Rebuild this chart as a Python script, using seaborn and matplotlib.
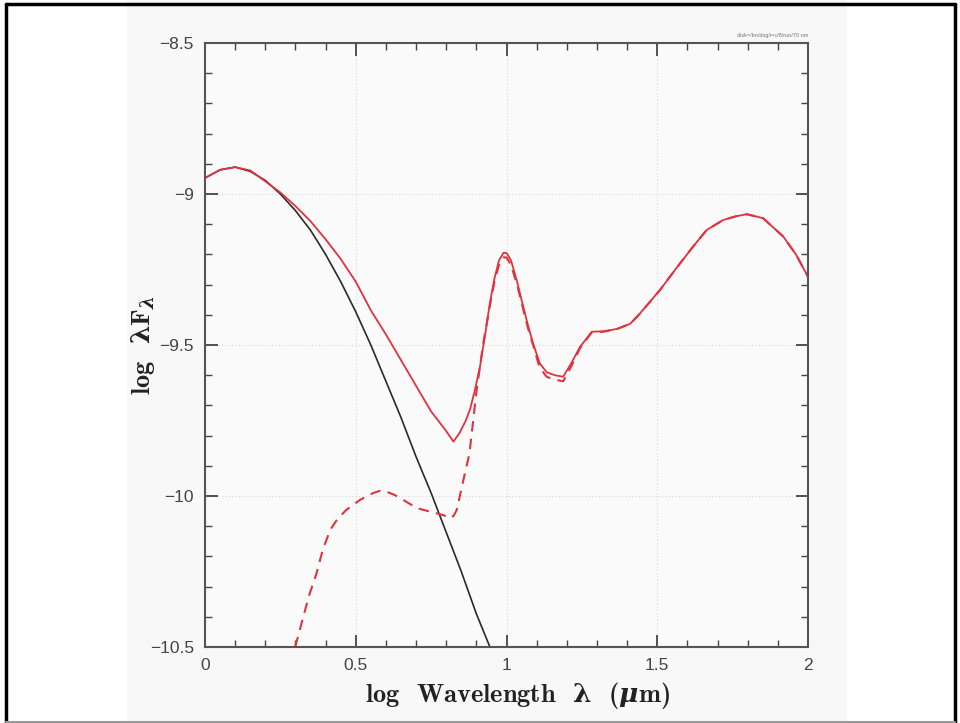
import matplotlib
matplotlib.use("Agg")
import matplotlib.pyplot as plt
import seaborn as sns
import pandas as pd
from matplotlib.patches import Rectangle
from matplotlib.lines import Line2D
from matplotlib.ticker import MultipleLocator, FixedFormatter, FixedLocator

# ---------------- data ----------------
x_star = [0.0, 0.05, 0.1, 0.15, 0.2, 0.25, 0.3, 0.35, 0.4, 0.45, 0.5, 0.55, 0.6, 0.65,
          0.7, 0.75, 0.8, 0.85, 0.9, 0.945]
y_star = [-8.947, -8.92, -8.911, -8.925, -8.955, -9.0, -9.055, -9.12, -9.2, -9.29, -9.39,
          -9.5, -9.62, -9.74, -9.87, -9.99, -10.12, -10.25, -10.39, -10.5]

x_total = [0.0, 0.05, 0.1, 0.15, 0.2, 0.25, 0.3, 0.35, 0.4, 0.45, 0.5, 0.55, 0.6, 0.65, 0.7,
           0.75, 0.8, 0.824, 0.845, 0.865, 0.88, 0.895, 0.912, 0.93, 0.945, 0.96, 0.975, 0.99,
           1.0, 1.015, 1.035, 1.05, 1.07, 1.088, 1.11, 1.133, 1.16, 1.188, 1.215, 1.244, 1.283,
           1.32, 1.365, 1.41, 1.443, 1.509, 1.56, 1.619, 1.664, 1.719, 1.76, 1.797, 1.851,
           1.918, 1.96, 2.0]
y_total = [-8.947, -8.92, -8.911, -8.922, -8.958, -8.995, -9.04, -9.09, -9.15, -9.215, -9.29,
           -9.385, -9.465, -9.55, -9.635, -9.72, -9.785, -9.82, -9.79, -9.75, -9.71, -9.65,
           -9.572, -9.46, -9.36, -9.28, -9.22, -9.195, -9.195, -9.22, -9.29, -9.351, -9.43,
           -9.494, -9.56, -9.59, -9.6, -9.605, -9.56, -9.506, -9.456, -9.455, -9.447, -9.43,
           -9.395, -9.318, -9.25, -9.174, -9.119, -9.086, -9.074, -9.067, -9.08, -9.141,
           -9.2, -9.274]

x_disk = [0.299, 0.31, 0.326, 0.345, 0.37, 0.39, 0.415, 0.44, 0.47, 0.514, 0.558, 0.58,
          0.603, 0.63, 0.658, 0.702, 0.74, 0.768, 0.795, 0.813, 0.825, 0.835, 0.857, 0.877,
          0.901, 0.923, 0.945, 0.96, 0.975, 0.99, 1.0, 1.015, 1.035, 1.05, 1.07, 1.088, 1.11,
          1.133, 1.16, 1.188, 1.215, 1.244, 1.283, 1.32, 1.365, 1.41, 1.443, 1.509, 1.56,
          1.619, 1.664, 1.719, 1.76, 1.797, 1.851, 1.918, 1.96, 2.0]
y_disk = [-10.5, -10.46, -10.4, -10.33, -10.256, -10.18, -10.113, -10.075, -10.045, -10.013,
          -9.99, -9.983, -9.986, -9.997, -10.013, -10.04, -10.05, -10.057, -10.065, -10.074,
          -10.065, -10.046, -9.947, -9.86, -9.649, -9.494, -9.37, -9.29, -9.235, -9.21, -9.21,
          -9.235, -9.3, -9.36, -9.44, -9.5, -9.575, -9.605, -9.615, -9.62, -9.57, -9.51,
          -9.458, -9.456, -9.448, -9.43, -9.396, -9.318, -9.25, -9.174, -9.119, -9.086,
          -9.074, -9.067, -9.08, -9.141, -9.2, -9.274]

x_ticks = [0, 0.5, 1, 1.5, 2]
x_ticklabels = ["0", "0.5", "1", "1.5", "2"]
y_ticks = [-10.5, -10, -9.5, -9, -8.5]
y_ticklabels = ["\u221210.5", "\u221210", "\u22129.5", "\u22129", "\u22128.5"]

# ---------------- figure ----------------
sns.set_theme(style="white")
plt.rcParams['font.family'] = ['Liberation Sans', 'DejaVu Sans']
plt.rcParams['mathtext.fontset'] = 'custom'
plt.rcParams['mathtext.rm'] = 'DejaVu Serif:bold'
plt.rcParams['mathtext.it'] = 'DejaVu Serif:italic:bold'
plt.rcParams['mathtext.bf'] = 'DejaVu Serif:bold'

fig = plt.figure(figsize=(9.6, 7.23), dpi=100)
fig.patch.set_facecolor("white")
# grey panel behind plot
fig.patches.append(Rectangle((127 / 960, 0.0), 720 / 960, 1.0, transform=fig.transFigure,
                             facecolor="#f8f8f8", edgecolor="none", zorder=-5))
# outer frame
fig.add_artist(Line2D([0.006, 0.006], [0.0, 0.995], transform=fig.transFigure, color="black", lw=2.5))
fig.add_artist(Line2D([0.995, 0.995], [0.0, 0.995], transform=fig.transFigure, color="black", lw=2.5))
fig.add_artist(Line2D([0.006, 0.995], [0.995, 0.995], transform=fig.transFigure, color="black", lw=2.5))
fig.add_artist(Line2D([0.006, 0.995], [0.001, 0.001], transform=fig.transFigure, color="#999999", lw=1.5))

ax = fig.add_axes([205 / 960, 76 / 723, 603 / 960, 604 / 723])
ax.set_zorder(2)
ax.set_facecolor("#fafafa")

df_star = pd.DataFrame({"x": x_star, "y": y_star})
df_total = pd.DataFrame({"x": x_total, "y": y_total})
df_disk = pd.DataFrame({"x": x_disk, "y": y_disk})

red = "#e0333f"
sns.lineplot(data=df_star, x="x", y="y", ax=ax, color="#2a2a2a", lw=1.2, sort=False, estimator=None)
sns.lineplot(data=df_disk, x="x", y="y", ax=ax, color=red, lw=1.5, sort=False, estimator=None,
             dashes=False, linestyle=(0, (5, 3.5)))
sns.lineplot(data=df_total, x="x", y="y", ax=ax, color=red, lw=1.3, sort=False, estimator=None)

ax.set_xlim(0, 2)
ax.set_ylim(-10.5, -8.5)

ax.xaxis.set_major_locator(FixedLocator(x_ticks))
ax.xaxis.set_major_formatter(FixedFormatter(x_ticklabels))
ax.yaxis.set_major_locator(FixedLocator(y_ticks))
ax.yaxis.set_major_formatter(FixedFormatter(y_ticklabels))
ax.xaxis.set_minor_locator(MultipleLocator(0.1))
ax.yaxis.set_minor_locator(MultipleLocator(0.1))

ax.tick_params(which="both", direction="in", top=True, right=True, bottom=True, left=True,
               color="#444444", labelcolor="#444444", labelsize=12.5)
ax.tick_params(which="major", length=9, width=1.3, pad=8)
ax.tick_params(which="minor", length=5, width=1.0)

for s in ax.spines.values():
    s.set_color("#555555")
    s.set_linewidth(1.5)

ax.grid(True, which="major", color="#d8d8d8", linestyle=(0, (1, 2)), linewidth=0.8)
ax.set_axisbelow(True)

ax.set_xlabel("log  Wavelength  $\\mathrm{\\lambda}$  ($\\mu$m)", family=["cmb10"],
              fontweight="bold", fontsize=19, color="#222222", labelpad=5)
ax.xaxis.label.set_x(0.518)
ax.set_ylabel("log  $\\mathrm{\\lambda}$F$_{\\lambda}$", family=["cmb10"],
              fontweight="bold", fontsize=19, color="#222222", labelpad=-5)

ax.text(1.0, 1.008, "disk=/bn/dsg/i=c/8/run/70 nm", transform=ax.transAxes, ha="right", va="bottom",
        fontsize=4, color="#777777")

fig.savefig("out.png", dpi=100)
